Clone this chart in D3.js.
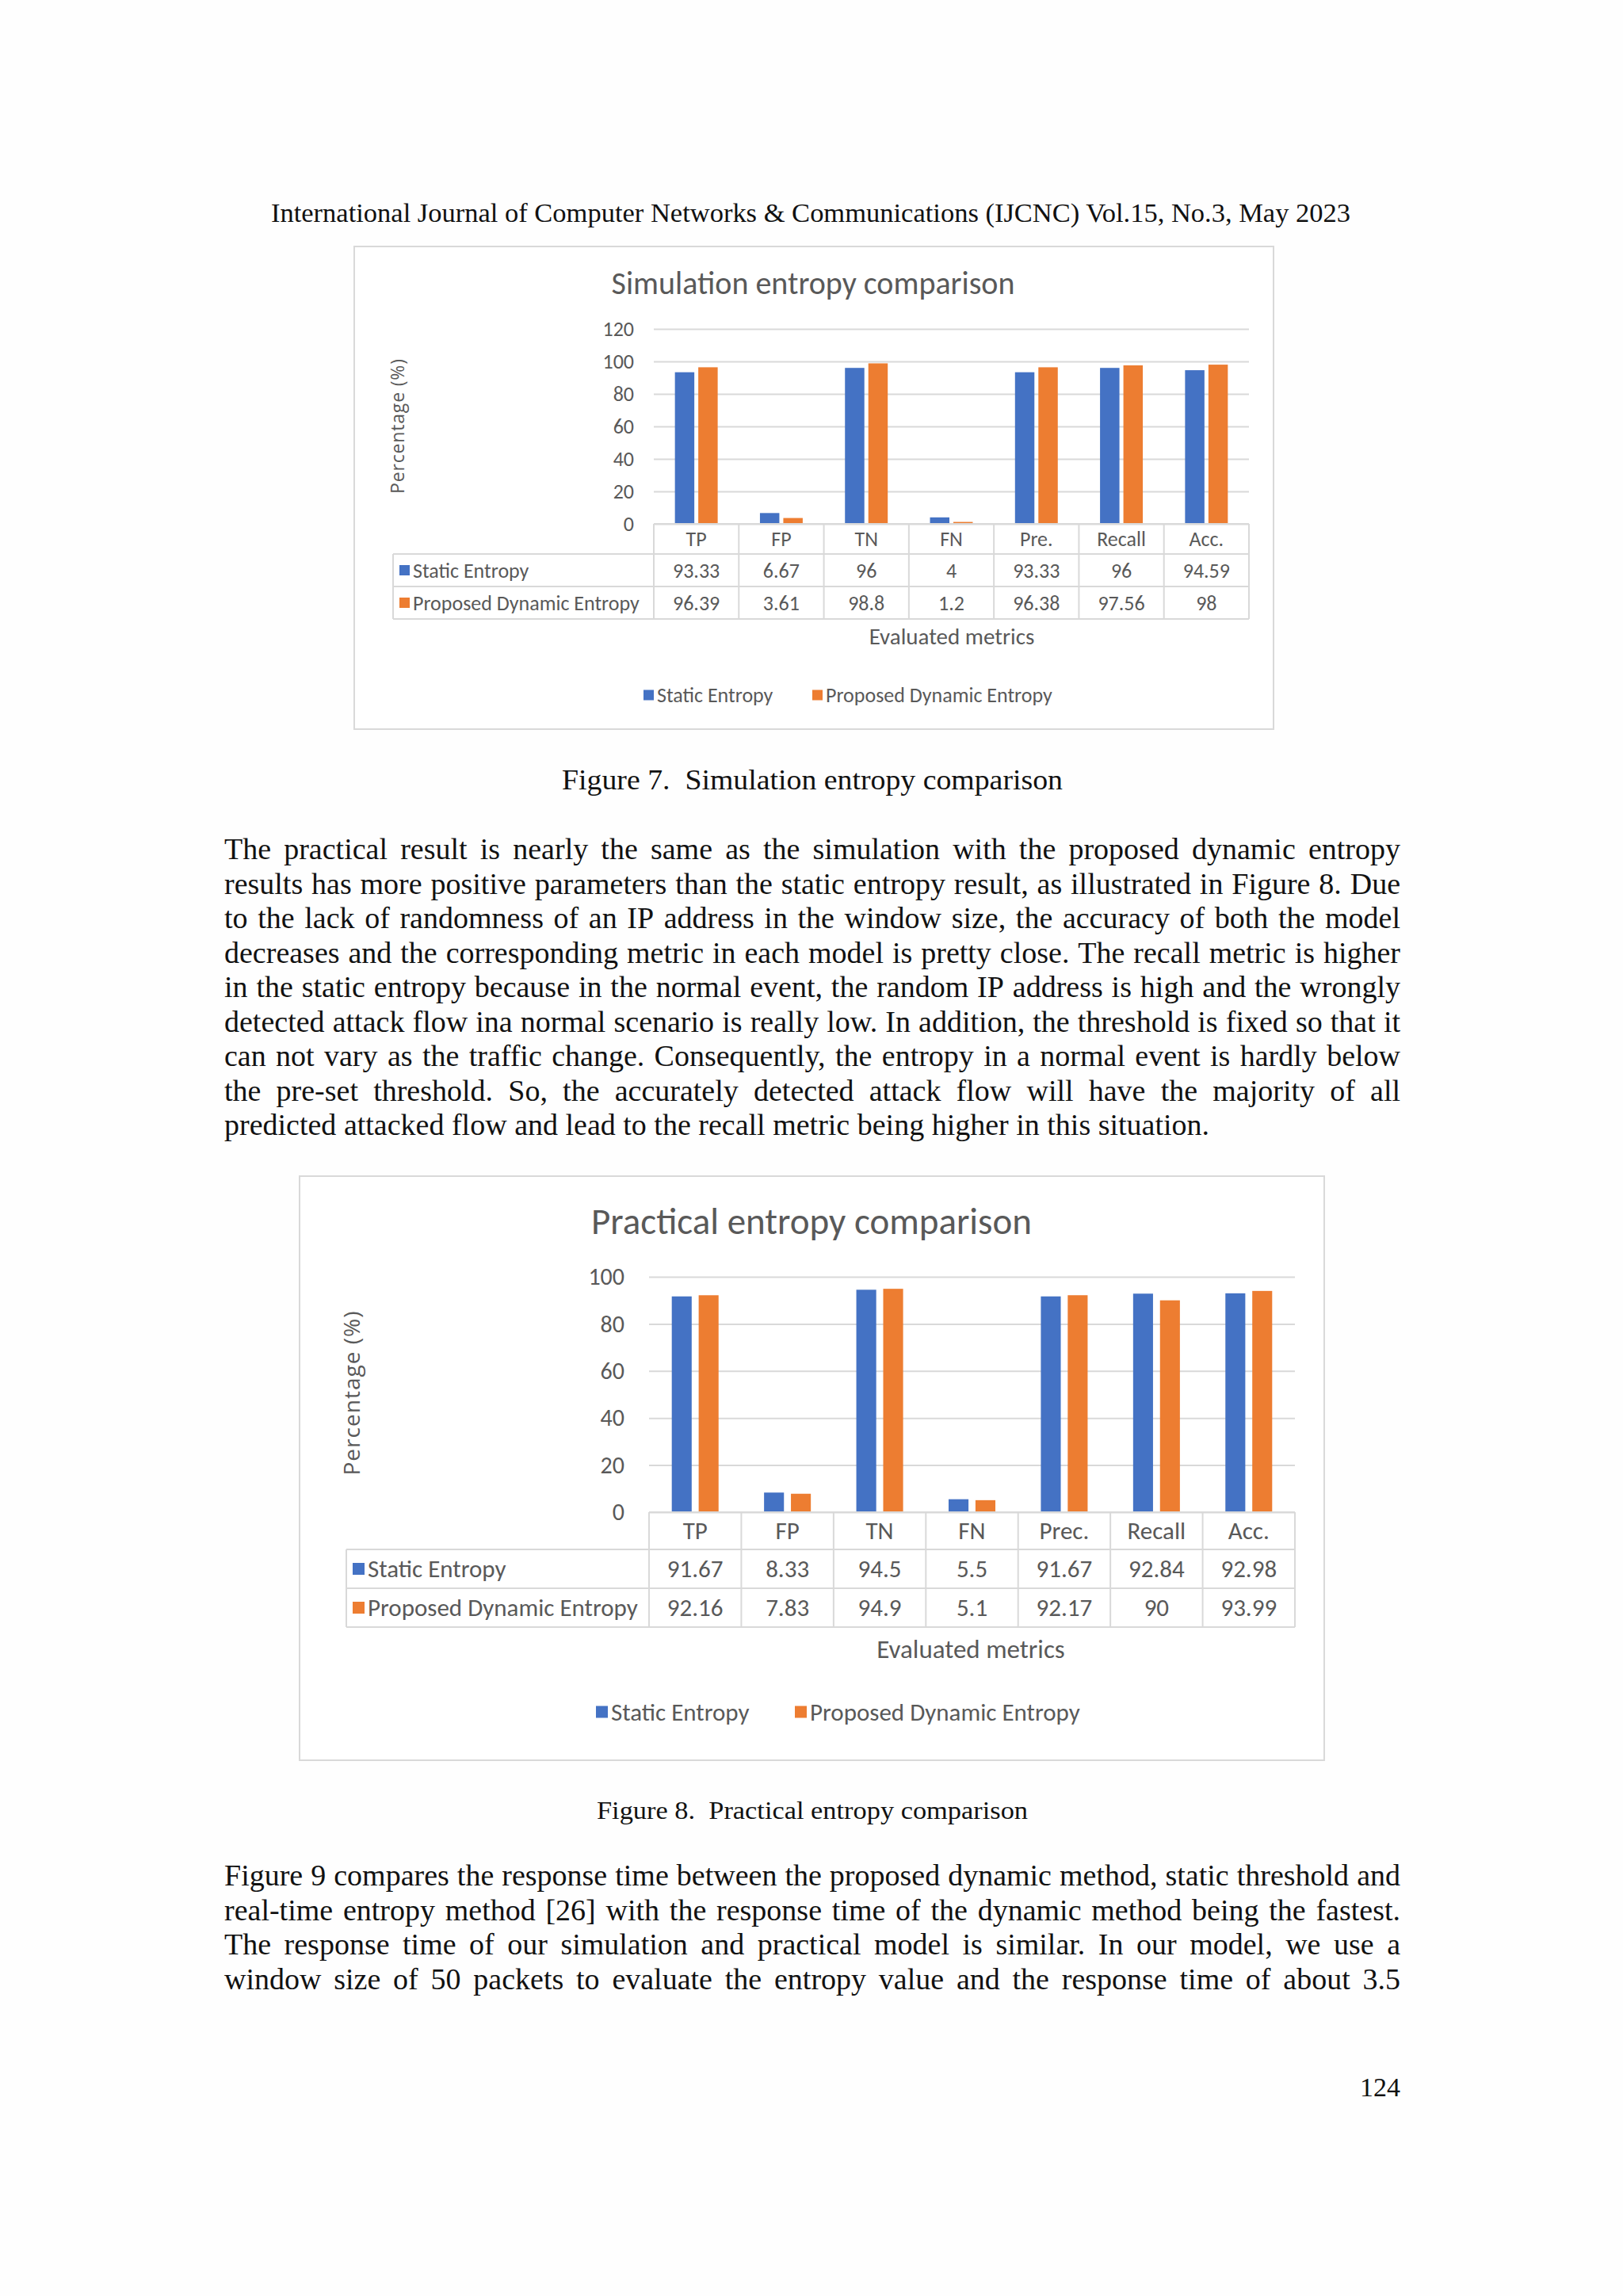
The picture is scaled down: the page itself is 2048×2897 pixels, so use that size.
<!DOCTYPE html>
<html>
<head>
<meta charset="utf-8">
<script src="https://cdn.jsdelivr.net/npm/d3@7"></script>
<style>
  body { margin: 0; background: #fefefe; }
  svg { display: block; }
</style>
</head>
<body>
<svg id="page" width="2048" height="2897"></svg>
<script>
// chart data
const seriesNames = ["Static Entropy", "Proposed Dynamic Entropy"];
const simCategories = ["TP", "FP", "TN", "FN", "Pre.", "Recall", "Acc."];
const simStatic = [93.33, 6.67, 96, 4, 93.33, 96, 94.59];
const simDynamic = [96.39, 3.61, 98.8, 1.2, 96.38, 97.56, 98];
const simTicks = [0, 20, 40, 60, 80, 100, 120];

const pracCategories = ["TP", "FP", "TN", "FN", "Prec.", "Recall", "Acc."];
const pracStatic = [91.67, 8.33, 94.5, 5.5, 91.67, 92.84, 92.98];
const pracDynamic = [92.16, 7.83, 94.9, 5.1, 92.17, 90, 93.99];
const pracTicks = [0, 20, 40, 60, 80, 100];

const seriesColors = ["#4472C4", "#ED7D31"];

// page text
const headerText = "International Journal of Computer Networks & Communications (IJCNC) Vol.15, No.3, May 2023";
const para1 = [
    "The practical result is nearly the same as the simulation with the proposed dynamic entropy",
    "results has more positive parameters than the static entropy result, as illustrated in Figure 8. Due",
    "to the lack of randomness of an IP address in the window size, the accuracy of both the model",
    "decreases and the corresponding metric in each model is pretty close. The recall metric is higher",
    "in the static entropy because in the normal event, the random IP address is high and the wrongly",
    "detected attack flow ina normal scenario is really low. In addition, the threshold is fixed so that it",
    "can not vary as the traffic change. Consequently, the entropy in a normal event is hardly below",
    "the pre-set threshold. So, the accurately detected attack flow will have the majority of all",
    "predicted attacked flow and lead to the recall metric being higher in this situation."
];
const para2 = [
    "Figure 9 compares the response time between the proposed dynamic method, static threshold and",
    "real-time entropy method [26] with the response time of the dynamic method being the fastest.",
    "The response time of our simulation and practical model is similar. In our model, we use a",
    "window size of 50 packets to evaluate the entropy value and the response time of about 3.5"
];

const SERIF = "'Liberation Serif', 'Times New Roman', serif";
const CHART_FONT = "Carlito, Calibri, Lato, sans-serif";
const GRAY = "#595959";
const GRID = "#d9d9d9";

const svg = d3.select("#page");

// measure helper
const measurer = svg.append("text").attr("x", -9999).attr("y", -9999);
function textWidth(str, family, size) {
    measurer.style("font-family", family).style("font-size", size + "px").text(str);
    return measurer.node().getComputedTextLength();
}

function fittedText(g, str, x, y, width, size, anchor) {
    return g.append("text")
        .attr("x", x).attr("y", y)
        .attr("text-anchor", anchor || "middle")
        .attr("textLength", width)
        .attr("lengthAdjust", "spacingAndGlyphs")
        .style("white-space", "pre")
        .style("font-family", SERIF)
        .style("font-size", size + "px")
        .style("fill", "#111")
        .text(str);
}

// justified paragraph, word by word
function justify(g, lines, left, right, y0, lh, size, justifyLast) {
    lines.forEach((line, i) => {
        const words = line.split(" ");
        const widths = words.map(w => textWidth(w, SERIF, size));
        const total = d3.sum(widths);
        const isLast = i === lines.length - 1;
        const gap = (isLast && !justifyLast) ? textWidth("a a", SERIF, size) - textWidth("aa", SERIF, size)
            : (right - left - total) / (words.length - 1);
        const t = g.append("text")
            .attr("y", y0 + i * lh)
            .style("font-family", SERIF)
            .style("font-size", size + "px")
            .style("fill", "#111");
        let x = left;
        words.forEach((w, k) => {
            t.append("tspan").attr("x", x).text(w);
            x += widths[k] + gap;
        });
    });
}

function drawChart(cfg) {
    const g = svg.append("g").attr("class", "chart");

    g.append("rect")
        .attr("x", cfg.box[0]).attr("y", cfg.box[1])
        .attr("width", cfg.box[2]).attr("height", cfg.box[3])
        .attr("fill", "#fff").attr("stroke", GRID).attr("stroke-width", 2);

    g.append("text")
        .attr("x", cfg.titleX).attr("y", cfg.titleY)
        .attr("text-anchor", "middle").attr("dy", "0.35em")
        .style("font-family", CHART_FONT).style("font-size", cfg.titleSize + "px")
        .style("fill", GRAY)
        .text(cfg.title);

    const x = d3.scaleBand().domain(cfg.categories).range([cfg.x0, cfg.x1]).padding(0);
    const y = d3.scaleLinear().domain([0, d3.max(cfg.ticks)]).range([cfg.yBottom, cfg.yTop]);
    const pair = x.bandwidth() * cfg.pairFrac;
    const xs = d3.scaleBand().domain(seriesNames)
        .range([(x.bandwidth() - pair) / 2, (x.bandwidth() + pair) / 2])
        .paddingInner(cfg.innerPad).paddingOuter(0);

    // gridlines + tick labels
    const axis = g.append("g")
        .attr("transform", `translate(${cfg.x0},0)`)
        .call(d3.axisLeft(y).tickValues(cfg.ticks).tickSize(-(cfg.x1 - cfg.x0)).tickPadding(cfg.tickPad));
    axis.select(".domain").remove();
    axis.selectAll(".tick line").attr("stroke", GRID).attr("stroke-width", 2);
    axis.selectAll(".tick text")
        .style("font-family", CHART_FONT).style("font-size", cfg.tickSize + "px")
        .style("fill", GRAY);

    // bars
    const rows = [cfg.values[0], cfg.values[1]];
    seriesNames.forEach((name, s) => {
        g.append("g").selectAll("rect")
            .data(cfg.categories.map((c, i) => ({c, v: rows[s][i]})))
            .join("rect")
            .attr("x", d => x(d.c) + xs(name))
            .attr("y", d => y(d.v))
            .attr("width", xs.bandwidth())
            .attr("height", d => y(0) - y(d.v))
            .attr("fill", seriesColors[s]);
    });

    // data table
    const r = cfg.rows;
    const tbl = g.append("g").attr("stroke", GRID).attr("stroke-width", 2);
    tbl.append("line").attr("x1", cfg.x0).attr("x2", cfg.x1).attr("y1", r[0]).attr("y2", r[0]);
    [r[1], r[2], r[3]].forEach(yy => {
        tbl.append("line").attr("x1", cfg.tableLeft).attr("x2", cfg.x1).attr("y1", yy).attr("y2", yy);
    });
    tbl.append("line").attr("x1", cfg.tableLeft).attr("x2", cfg.tableLeft).attr("y1", r[1]).attr("y2", r[3]);
    cfg.categories.forEach(c => {
        tbl.append("line").attr("x1", x(c)).attr("x2", x(c)).attr("y1", r[0]).attr("y2", r[3]);
    });
    tbl.append("line").attr("x1", cfg.x1).attr("x2", cfg.x1).attr("y1", r[0]).attr("y2", r[3]);

    const cellText = (sel) => sel.attr("text-anchor", "middle").attr("dy", "0.35em")
        .style("font-family", CHART_FONT).style("font-size", cfg.tableSize + "px").style("fill", GRAY);

    g.append("g").selectAll("text").data(cfg.categories).join("text")
        .attr("x", d => x(d) + x.bandwidth() / 2)
        .attr("y", (r[0] + r[1]) / 2)
        .call(cellText)
        .text(d => d);

    seriesNames.forEach((name, s) => {
        const cy = (r[s + 1] + r[s + 2]) / 2;
        g.append("rect")
            .attr("x", cfg.tableLeft + cfg.keyInset).attr("y", cy - cfg.keySize / 2)
            .attr("width", cfg.keySize).attr("height", cfg.keySize)
            .attr("fill", seriesColors[s]);
        g.append("text")
            .attr("x", cfg.tableLeft + cfg.keyInset + cfg.keySize + 4).attr("y", cy).attr("dy", "0.35em")
            .style("font-family", CHART_FONT).style("font-size", cfg.tableSize + "px").style("fill", GRAY)
            .text(name);
        g.append("g").selectAll("text").data(cfg.categories.map((c, i) => ({c, v: rows[s][i]}))).join("text")
            .attr("x", d => x(d.c) + x.bandwidth() / 2)
            .attr("y", cy)
            .call(cellText)
            .text(d => String(d.v));
    });

    // axis titles
    g.append("text")
        .attr("x", cfg.xTitleX).attr("y", cfg.xTitleY).attr("dy", "0.35em")
        .attr("text-anchor", "middle")
        .style("font-family", CHART_FONT).style("font-size", cfg.axisTitleSize + "px").style("fill", GRAY)
        .text("Evaluated metrics");

    g.append("text")
        .attr("transform", `translate(${cfg.yTitleX},${cfg.yTitleY}) rotate(-90)`)
        .attr("text-anchor", "middle").attr("dy", "0.35em")
        .attr("textLength", cfg.yTitleLen).attr("lengthAdjust", "spacing")
        .style("font-family", "'Open Sans', sans-serif").style("font-size", cfg.yTitleSize + "px")
        .style("fill", GRAY)
        .text("Percentage (%)");

    // legend
    seriesNames.forEach((name, s) => {
        const lx = cfg.legendX[s];
        g.append("rect")
            .attr("x", lx).attr("y", cfg.legendY - cfg.keySize / 2)
            .attr("width", cfg.keySize).attr("height", cfg.keySize)
            .attr("fill", seriesColors[s]);
        g.append("text")
            .attr("x", lx + cfg.keySize + 4).attr("y", cfg.legendY).attr("dy", "0.35em")
            .style("font-family", CHART_FONT).style("font-size", cfg.legendSize + "px").style("fill", GRAY)
            .text(name);
    });
}

// header
fittedText(svg, headerText, 1023, 280, 1362, 33);

// Figure 7
drawChart({
    title: "Simulation entropy comparison",
    categories: simCategories, values: [simStatic, simDynamic], ticks: simTicks,
    box: [447, 311, 1160, 609],
    titleX: 1026, titleY: 357, titleSize: 40,
    x0: 825, x1: 1576, yTop: 415, yBottom: 661,
    pairFrac: 0.503, innerPad: 0.17,
    tickPad: 25, tickSize: 26,
    tableLeft: 496, rows: [661, 699, 740, 781], tableSize: 26, keyInset: 8, keySize: 13,
    xTitleX: 1201, xTitleY: 803, axisTitleSize: 29,
    yTitleX: 502, yTitleY: 538, yTitleLen: 170, yTitleSize: 23,
    legendX: [812, 1025], legendY: 877, legendSize: 26
});
fittedText(svg, "Figure 7.  Simulation entropy comparison", 1025, 996, 632, 35);

justify(svg, para1, 283, 1767, 1084, 43.5, 38, false);

// Figure 8
drawChart({
    title: "Practical entropy comparison",
    categories: pracCategories, values: [pracStatic, pracDynamic], ticks: pracTicks,
    box: [378, 1484, 1293, 737],
    titleX: 1024, titleY: 1541, titleSize: 47,
    x0: 819, x1: 1634, yTop: 1611, yBottom: 1908,
    pairFrac: 0.507, innerPad: 0.26,
    tickPad: 31, tickSize: 30,
    tableLeft: 437, rows: [1908, 1955, 2004, 2053], tableSize: 31, keyInset: 8, keySize: 15,
    xTitleX: 1225, xTitleY: 2080, axisTitleSize: 33,
    yTitleX: 444, yTitleY: 1758, yTitleLen: 207, yTitleSize: 28,
    legendX: [752, 1003], legendY: 2160, legendSize: 31
});
fittedText(svg, "Figure 8.  Practical entropy comparison", 1025, 2295, 544, 31);

justify(svg, para2, 283, 1767, 2379, 43.6, 38, true);

svg.append("text")
    .attr("x", 1767).attr("y", 2645).attr("text-anchor", "end")
    .style("font-family", SERIF).style("font-size", "34px").style("fill", "#111")
    .text("124");

measurer.remove();
</script>
</body>
</html>
